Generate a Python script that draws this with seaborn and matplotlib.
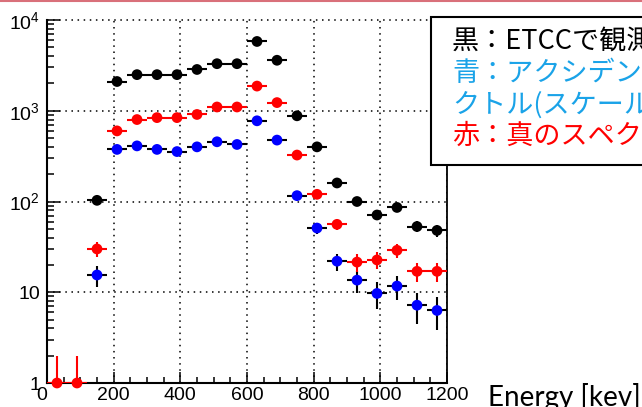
import numpy as np
import pandas as pd
import matplotlib
matplotlib.use("Agg")
import matplotlib.pyplot as plt
import seaborn as sns
from matplotlib.patches import Rectangle
from matplotlib.lines import Line2D
from matplotlib.ticker import FixedLocator, FuncFormatter, LogLocator, NullFormatter

# Energy bins (keV): 60 keV wide, centre values
bin_width = 60
energy = [30, 90, 150, 210, 270, 330, 390, 450, 510, 570,
          630, 690, 750, 810, 870, 930, 990, 1050, 1110, 1170]

# Counts per bin
observed = [np.nan, np.nan, 103, 2100, 2500, 2500, 2500, 2850, 3300, 3300,
            5800, 3600, 880, 400, 160, 100, 71, 86, 53, 48]
accidental_subtracted = [np.nan, np.nan, 15.5, 375, 410, 375, 355, 400, 455, 425,
                         775, 475, 116, 51, 22, 13.6, 9.7, 11.7, 7.2, 6.3]
true_spectrum = [1, 1, 30, 600, 800, 840, 840, 910, 1100, 1100,
                 1870, 1230, 325, 120, 56, 21.5, 22.7, 29, 17, 17]

series_names = ["observed", "accidental", "true"]
series_values = [observed, accidental_subtracted, true_spectrum]
marker_colors = {"observed": "#000000", "accidental": "#0000ff", "true": "#ff0000"}
bar_colors = {"observed": "#000000", "accidental": "#000000", "true": "#ff0000"}

x_ticks = [0, 200, 400, 600, 800, 1000, 1200]
y_ticks = [1, 10, 100, 1000, 10000]
y_tick_labels = {1: "1", 10: "10", 100: r"$\mathregular{10^{2}}$",
                 1000: r"$\mathregular{10^{3}}$", 10000: r"$\mathregular{10^{4}}$"}

legend_lines = [
    ("黒：ETCCで観測されたスペクトル", "#000000"),
    ("青：アクシデンタルを差し引いたスペ", "#1aa3e8"),
    ("クトル(スケール済み)", "#1aa3e8"),
    ("赤：真のスペクトル", "#ff0000"),
]
x_label = "Energy [kev]"

frames = []
for name, vals in zip(series_names, series_values):
    frames.append(pd.DataFrame({"energy": energy, "counts": vals, "series": name}))
df = pd.concat(frames, ignore_index=True).dropna()
df["err"] = np.sqrt(df["counts"])
df["err_lo"] = np.where(df["counts"] - df["err"] > 0, df["err"], 0.0)

sns.set_style("ticks")
plt.rcParams["font.family"] = ["Liberation Sans", "DejaVu Sans"]
plt.rcParams["mathtext.fontset"] = "custom"
plt.rcParams["mathtext.rm"] = "Liberation Sans"
plt.rcParams["mathtext.it"] = "Liberation Sans:italic"

W, H = 642, 407
fig = plt.figure(figsize=(W / 100, H / 100), dpi=100)
ax = fig.add_axes([47 / W, 24 / H, 400 / W, 363 / H])

# Error bars first, then markers on top
for name in series_names:
    sub = df[df["series"] == name]
    ax.errorbar(sub["energy"], sub["counts"], xerr=bin_width / 2,
                yerr=[sub["err_lo"], sub["err"]], fmt="none",
                ecolor=bar_colors[name], elinewidth=1.5, capsize=0, zorder=3)

sns.scatterplot(data=df, x="energy", y="counts", hue="series",
                palette=marker_colors, s=60, linewidth=0, legend=False,
                ax=ax, zorder=4, clip_on=False)

ax.set_yscale("log")
ax.set_xlim(0, 1200)
ax.set_ylim(1, 1e4)
ax.set_xlabel("")
ax.set_ylabel("")

ax.xaxis.set_major_locator(FixedLocator(x_ticks))
ax.xaxis.set_minor_locator(FixedLocator(np.arange(0, 1201, 50)))
ax.yaxis.set_major_locator(FixedLocator(y_ticks))
ax.yaxis.set_minor_locator(LogLocator(base=10, subs=np.arange(2, 10)))
ax.yaxis.set_major_formatter(FuncFormatter(lambda v, p: y_tick_labels.get(int(round(v)), "")))
ax.yaxis.set_minor_formatter(NullFormatter())

ax.tick_params(axis="both", which="both", direction="in", colors="black",
               labelsize=14, width=1.1)
ax.tick_params(axis="x", which="major", length=8, pad=3)
ax.tick_params(axis="x", which="minor", length=4)
ax.tick_params(axis="y", which="major", length=9, pad=5)
ax.tick_params(axis="y", which="minor", length=5)

ax.grid(True, which="major", color="black", linestyle=(0, (1, 3)), linewidth=1.1)
ax.set_axisbelow(True)
for gl in ax.get_ygridlines():
    gl.set_clip_on(False)

for side in ["left", "bottom"]:
    ax.spines[side].set_linewidth(1.5)
ax.spines["right"].set_linewidth(1.3)
ax.spines["top"].set_visible(False)
for sp in ax.spines.values():
    sp.set_color("black")

fig.canvas.draw()
ax.xaxis.get_major_ticks()[0].label1.set_horizontalalignment("right")

# Text box to the right of the plot
fig.patches.append(Rectangle((431 / W, 1 - 165 / H), 260 / W, 148.5 / H,
                             transform=fig.transFigure, facecolor="white",
                             edgecolor="black", linewidth=1.5, zorder=5))
for i, (txt, col) in enumerate(legend_lines):
    y_px = 42 + i * 31.5
    fig.text(452 / W, 1 - y_px / H, txt, color=col, fontsize=19.5,
             family=["Noto Sans CJK JP", "DejaVu Sans"], va="center", ha="left",
             zorder=6)

fig.text(488 / W, 1 - 406 / H, x_label, fontsize=20, family=["Lato", "DejaVu Sans"],
         va="baseline", ha="left", color="black")

# Thin coloured rule along the top edge
fig.lines.append(Line2D([0, 1], [1 - 0.8 / H, 1 - 0.8 / H], transform=fig.transFigure,
                        color="#d9707a", linewidth=1.5))

fig.savefig("out.png", dpi=100)
